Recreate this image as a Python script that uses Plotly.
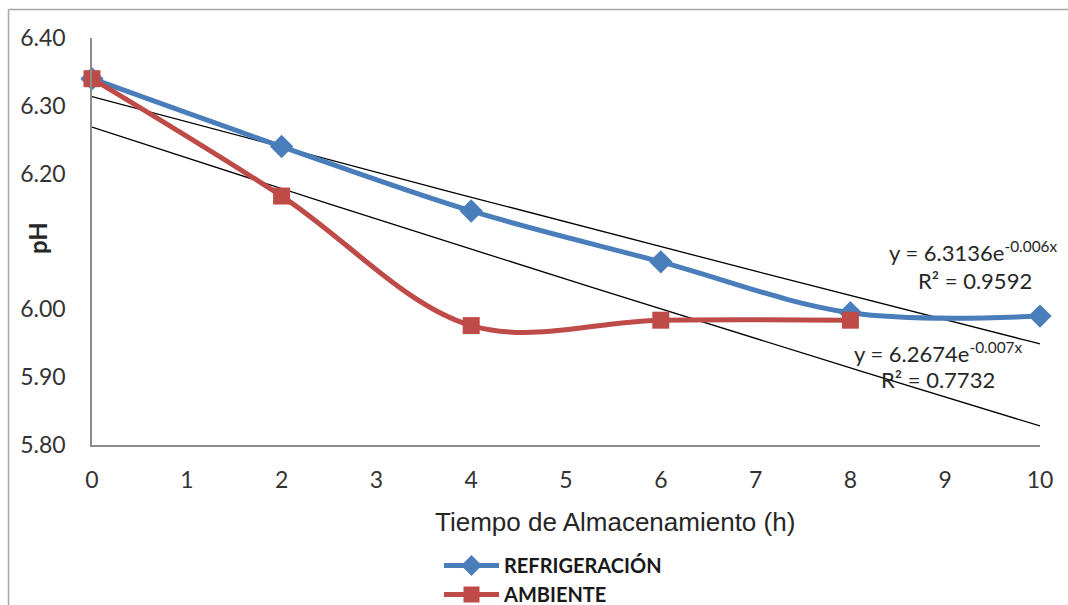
import numpy as np
import plotly.graph_objects as go

# ---------------- data ----------------
tiempo_refrig = [0, 2, 4, 6, 8, 10]
ph_refrig = [6.34, 6.24, 6.145, 6.07, 5.995, 5.99]

tiempo_amb = [0, 2, 4, 6, 8]
ph_amb = [6.34, 6.167, 5.976, 5.984, 5.984]

x_tick_vals = list(range(0, 11))
y_tick_vals = [5.80, 5.90, 6.00, 6.20, 6.30, 6.40]
y_tick_text = ["5.80", "5.90", "6.00", "6.20", "6.30", "6.40"]

eq_refrig = "y = 6.3136e<sup>-0.006x</sup>"
r2_refrig = "R² = 0.9592"
eq_amb = "y = 6.2674e<sup>-0.007x</sup>"
r2_amb = "R² = 0.7732"

names = ["REFRIGERACIÓN", "AMBIENTE"]

# ---------------- styles ----------------
BLUE = "#4A7EBB"
RED = "#BE4B48"
TXT = "#262626"
AXIS = "#8C8C8C"
TICK_FONT = dict(family="Lato, Liberation Sans, sans-serif", size=23, color="#333333")

# exponential trendlines fitted to the data (as the spreadsheet does)
def exp_fit(x, y):
    b, ln_a = np.polyfit(np.asarray(x, float), np.log(np.asarray(y, float)), 1)
    return np.exp(ln_a), b

a_r, b_r = exp_fit(tiempo_refrig, ph_refrig)
a_a, b_a = exp_fit(tiempo_amb, ph_amb)
xx = np.linspace(0, 10, 101)

fig = go.Figure()

fig.add_trace(go.Scatter(
    x=xx, y=a_r * np.exp(b_r * xx), mode="lines",
    line=dict(color="#000000", width=1.3), showlegend=False, hoverinfo="skip"))
fig.add_trace(go.Scatter(
    x=xx, y=a_a * np.exp(b_a * xx), mode="lines",
    line=dict(color="#000000", width=1.3), showlegend=False, hoverinfo="skip"))

fig.add_trace(go.Scatter(
    x=tiempo_refrig, y=ph_refrig, name=names[0], mode="lines+markers",
    line=dict(color=BLUE, width=5, shape="spline", smoothing=1),
    marker=dict(symbol="diamond", size=18, color=BLUE),
    cliponaxis=False))
fig.add_trace(go.Scatter(
    x=tiempo_amb, y=ph_amb, name=names[1], mode="lines+markers",
    line=dict(color=RED, width=5, shape="spline", smoothing=1),
    marker=dict(symbol="square", size=17, color=RED),
    cliponaxis=False))

# plot area geometry in pixels
W, H = 1068, 605
L, R, T, B = 92, 28, 38, 160
pw, ph = W - L - R, H - T - B

def px_to_paper_x(px):
    return (px - L) / pw

def px_to_paper_y(py):
    return (H - B - py) / ph

ann_font = dict(family="Lato, Liberation Sans, sans-serif", size=22, color=TXT)
annotations = [
    dict(x=9.29, y=6.085, xref="x", yref="y", text=eq_refrig, showarrow=False, font=ann_font),
    dict(x=9.31, y=6.043, xref="x", yref="y", text=r2_refrig, showarrow=False, font=ann_font),
    dict(x=8.92, y=5.937, xref="x", yref="y", text=eq_amb, showarrow=False, font=ann_font),
    dict(x=8.92, y=5.896, xref="x", yref="y", text=r2_amb, showarrow=False, font=ann_font),
    dict(x=px_to_paper_x(37), y=6.105, xref="paper", yref="y", text="<b>pH</b>",
         textangle=-90, showarrow=False, xanchor="center", yanchor="middle",
         font=dict(family="Lato, Liberation Sans, sans-serif", size=24, color=TXT)),
    dict(x=px_to_paper_x(615), y=px_to_paper_y(522), xref="paper", yref="paper",
         text="Tiempo de Almacenamiento (h)", showarrow=False,
         xanchor="center", yanchor="middle",
         font=dict(family="Liberation Sans, Arial, sans-serif", size=26, color=TXT)),
]

shapes = [
    dict(type="line", xref="paper", yref="paper",
         x0=px_to_paper_x(8.5), x1=px_to_paper_x(8.5),
         y0=px_to_paper_y(9.5), y1=px_to_paper_y(610),
         line=dict(color="#A6A6A6", width=1.5)),
    dict(type="line", xref="paper", yref="paper",
         x0=px_to_paper_x(8.5), x1=px_to_paper_x(1075),
         y0=px_to_paper_y(9.5), y1=px_to_paper_y(9.5),
         line=dict(color="#A6A6A6", width=1.5)),
]

fig.update_layout(
    width=W, height=H,
    margin=dict(l=L, r=R, t=T, b=B, autoexpand=False),
    paper_bgcolor="white", plot_bgcolor="white",
    showlegend=True,
    legend=dict(
        x=px_to_paper_x(439), y=px_to_paper_y(546), xanchor="left", yanchor="top",
        orientation="v", bgcolor="rgba(0,0,0,0)", borderwidth=0,
        font=dict(family="Lato, Liberation Sans, sans-serif", size=20, color="#1a1a1a", weight="bold"),
        itemwidth=55, tracegroupgap=0,
    ),
    annotations=annotations,
    shapes=shapes,
)

fig.update_xaxes(
    range=[0, 10], tickvals=x_tick_vals, ticktext=[str(v) for v in x_tick_vals],
    showgrid=False, zeroline=False, showline=True, linecolor=AXIS, linewidth=1.5,
    ticks="", tickfont=TICK_FONT, ticklabelstandoff=14,
)
fig.update_yaxes(
    range=[5.80, 6.40], tickvals=y_tick_vals, ticktext=y_tick_text,
    showgrid=False, zeroline=False, showline=True, linecolor=AXIS, linewidth=1.5,
    ticks="", tickfont=TICK_FONT, ticklabelstandoff=20,
)

fig.write_html("out.html")
